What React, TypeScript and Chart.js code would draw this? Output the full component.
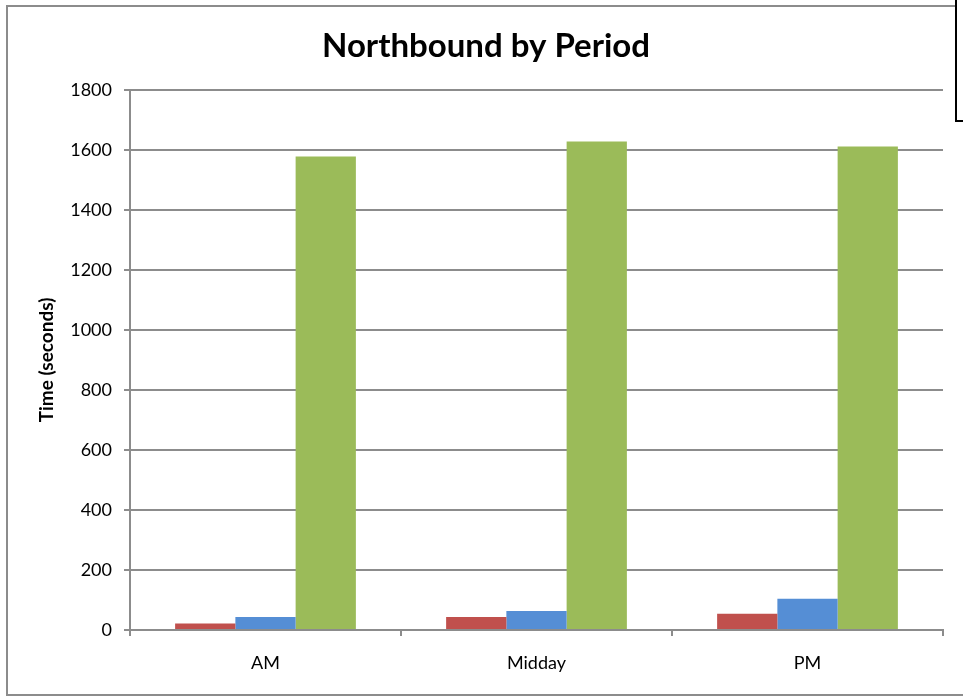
import React, { useEffect, useRef } from "react";
import { Chart, registerables } from "chart.js";

Chart.register(...registerables);

const categories = ["AM", "Midday", "PM"];
const seriesLabels = ["Series 1", "Series 2", "Series 3"];
const series1 = [22, 43, 54];
const series2 = [43, 63, 104];
const series3 = [1578, 1628, 1612];
const yTicks = [0, 200, 400, 600, 800, 1000, 1200, 1400, 1600, 1800];

const FONT = "Lato, 'Open Sans', sans-serif";
const GRID = "#8c8c8c";

const framePlugin = {
  id: "frame",
  beforeDraw(chart: any) {
    const ctx = chart.ctx;
    ctx.save();
    ctx.fillStyle = "#ffffff";
    ctx.fillRect(0, 0, chart.width, chart.height);
    ctx.strokeStyle = GRID;
    ctx.lineWidth = 2;
    ctx.strokeRect(7, 6, chart.width + 50, 689);
    ctx.restore();
  },
  afterDraw(chart: any) {
    const ctx = chart.ctx;
    ctx.save();
    ctx.fillStyle = "#ffffff";
    ctx.fillRect(956, -10, 100, 131);
    ctx.strokeStyle = "#000000";
    ctx.lineWidth = 2;
    ctx.strokeRect(956, -10, 100, 131);
    ctx.restore();
  },
};

export default function App() {
  const ref = useRef<HTMLCanvasElement | null>(null);
  useEffect(() => {
    document.body.style.margin = "0";
    const canvas = ref.current!;
    const chart = new Chart(canvas, {
      type: "bar",
      data: {
        labels: categories,
        datasets: [
          { label: seriesLabels[0], data: series1, backgroundColor: "#C0504D" },
          { label: seriesLabels[1], data: series2, backgroundColor: "#558ED5" },
          { label: seriesLabels[2], data: series3, backgroundColor: "#9BBB59" },
        ],
      },
      options: {
        responsive: false,
        animation: false,
        devicePixelRatio: 1,
        layout: { padding: { left: 29, right: 20, top: 0, bottom: 0 } },
        datasets: { bar: { categoryPercentage: 0.667, barPercentage: 1 } },
        plugins: {
          legend: { display: false },
          tooltip: { enabled: false },
          title: {
            display: true,
            text: "Northbound by Period",
            color: "#000000",
            font: { family: FONT, size: 33, weight: "bold", lineHeight: 1.2 },
            padding: { top: 27, bottom: 23.4 },
          },
        },
        scales: {
          x: {
            grid: {
              display: true,
              offset: true,
              drawOnChartArea: false,
              drawTicks: true,
              tickLength: 6,
              color: GRID,
              lineWidth: 2,
            },
            border: { display: true, color: GRID, width: 2 },
            ticks: {
              color: "#000000",
              font: { family: FONT, size: 18 },
              padding: 16,
            },
            afterFit(scale: any) {
              scale.height = 68;
            },
          },
          y: {
            min: 0,
            max: 1800,
            afterBuildTicks(scale: any) {
              scale.ticks = yTicks.map((v) => ({ value: v }));
            },
            grid: {
              color: GRID,
              lineWidth: 2,
              drawTicks: true,
              tickLength: 6,
            },
            border: { display: true, color: GRID, width: 2 },
            ticks: {
              color: "#000000",
              font: { family: FONT, size: 18 },
              padding: 12,
              callback: (v: any) => String(v),
            },
            title: {
              display: true,
              text: "Time (seconds)",
              color: "#000000",
              font: { family: FONT, size: 19, weight: "bold", lineHeight: 1.2 },
              padding: { top: 6, bottom: 0 },
            },
            afterFit(scale: any) {
              scale.width = 101;
            },
          },
        },
      },
      plugins: [framePlugin],
    });
    return () => chart.destroy();
  }, []);
  return (
    <div style={{ position: "fixed", left: 0, top: 0, width: 963, height: 698, overflow: "hidden" }}>
      <canvas ref={ref} width={963} height={698} style={{ display: "block" }} />
    </div>
  );
}
